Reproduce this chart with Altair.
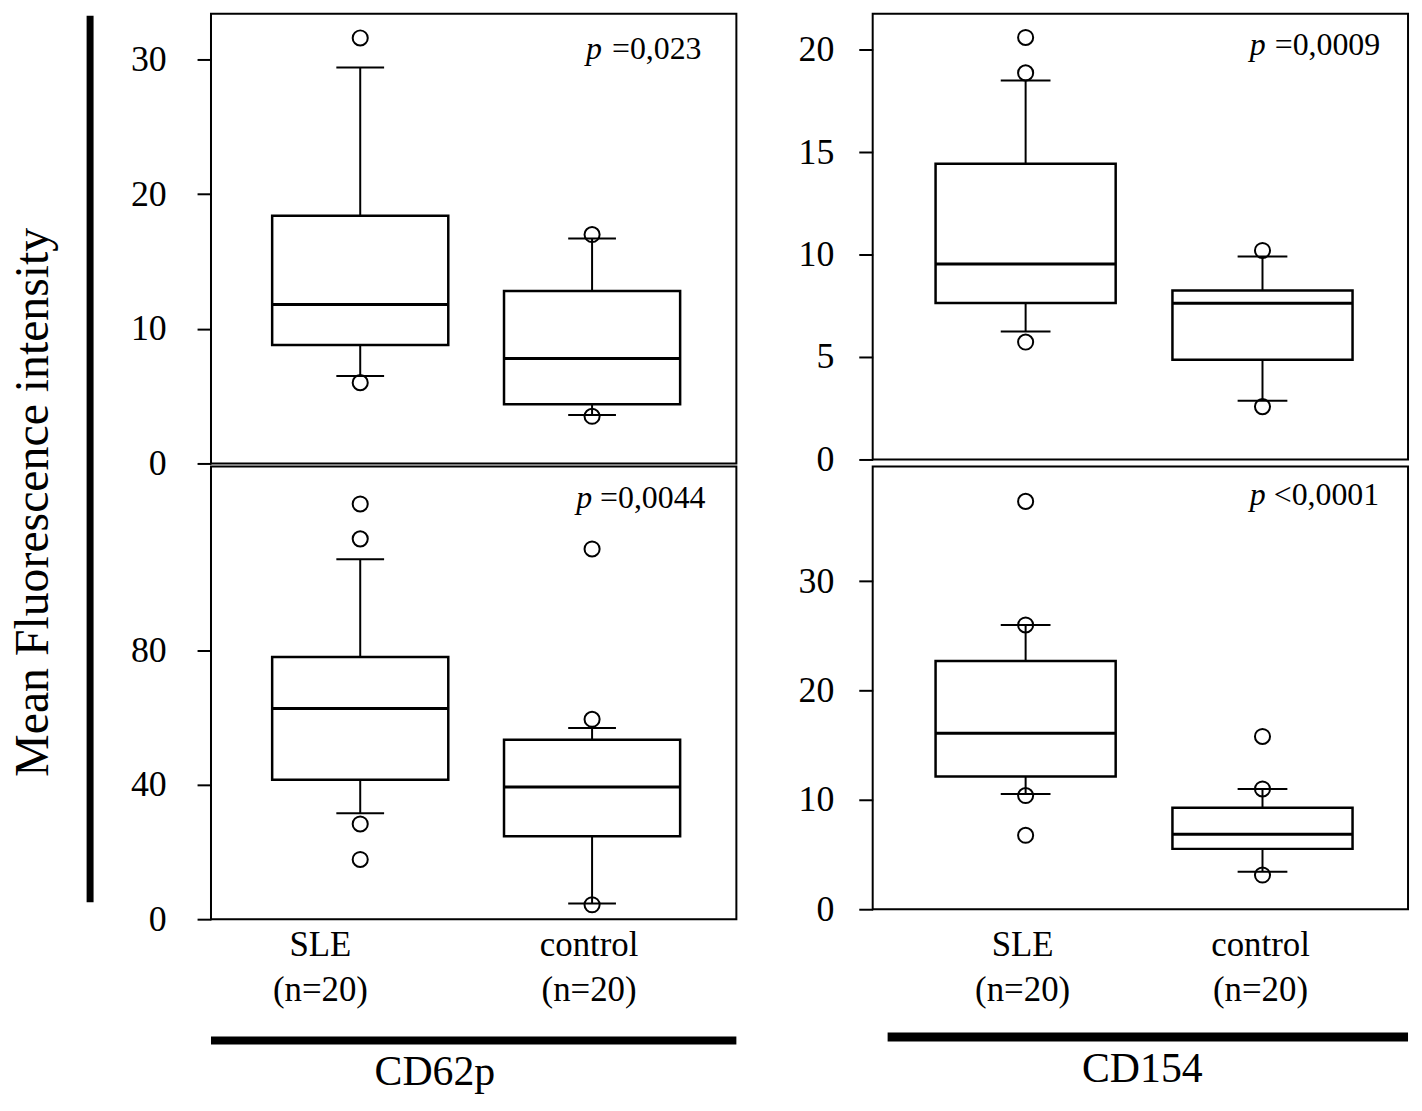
import altair as alt
import pandas as pd

FONT = "Liberation Serif"

groups = ["SLE", "control"]
n_label = "(n=20)"
y_title = "Mean Fluorescence intensity"
marker_names = ["CD62p", "CD154"]

# ---- CD62p, upper panel
cd62p_top_lo = [6.5, 3.6]
cd62p_top_q1 = [8.8, 4.4]
cd62p_top_med = [11.8, 7.8]
cd62p_top_q3 = [18.4, 12.8]
cd62p_top_hi = [29.4, 16.7]
cd62p_top_out_g = ["SLE", "SLE", "control", "control"]
cd62p_top_out_v = [31.6, 6.0, 17.0, 3.5]
cd62p_top_ticks = [0, 10, 20, 30]
cd62p_top_p = "=0,023"

# ---- CD62p, lower panel
cd62p_bot_lo = [31.6, 4.7]
cd62p_bot_q1 = [41.6, 24.7]
cd62p_bot_med = [62.8, 39.4]
cd62p_bot_q3 = [78.2, 53.5]
cd62p_bot_hi = [107.3, 57.0]
cd62p_bot_out_g = ["SLE", "SLE", "SLE", "SLE", "control", "control", "control"]
cd62p_bot_out_v = [123.8, 113.4, 28.4, 17.8, 110.4, 59.6, 4.3]
cd62p_bot_ticks = [0, 40, 80]
cd62p_bot_p = "=0,0044"

# ---- CD154, upper panel
cd154_top_lo = [6.25, 2.87]
cd154_top_q1 = [7.64, 4.87]
cd154_top_med = [9.54, 7.62]
cd154_top_q3 = [14.44, 8.25]
cd154_top_hi = [18.5, 9.91]
cd154_top_out_g = ["SLE", "SLE", "SLE", "control", "control"]
cd154_top_out_v = [20.6, 18.87, 5.73, 10.2, 2.58]
cd154_top_ticks = [0, 5, 10, 15, 20]
cd154_top_p = "=0,0009"

# ---- CD154, lower panel
cd154_bot_lo = [10.54, 3.42]
cd154_bot_q1 = [12.15, 5.52]
cd154_bot_med = [16.1, 6.85]
cd154_bot_q3 = [22.7, 9.28]
cd154_bot_hi = [26.0, 11.0]
cd154_bot_out_g = ["SLE", "SLE", "SLE", "SLE", "control", "control", "control"]
cd154_bot_out_v = [37.3, 26.0, 10.4, 6.76, 15.8, 11.0, 3.13]
cd154_bot_ticks = [0, 10, 20, 30]
cd154_bot_p = "<0,0001"

NOFRAME = alt.ViewBackground(stroke="transparent")


def panel(lo, q1, med, q3, hi, out_g, out_v, ticks, ptext,
          W, H, ymax, ylab_pad, pad_outer, band_align, box_w, cap_w,
          p_left, p_right, p_base, show_x=False, xlab_pad=9,
          sle_off=0, ctrl_off=0):
    stats = pd.DataFrame({"g": groups, "lo": lo, "q1": q1, "med": med,
                          "q3": q3, "hi": hi})
    outs = pd.DataFrame({"g": out_g, "v": out_v})
    xsc = alt.Scale(domain=groups, paddingOuter=pad_outer, paddingInner=0,
                    align=band_align)
    if show_x:
        expr = (f"datum.value === '{groups[0]}' ? ['{groups[0]}', '{n_label}'] : "
                f"['{groups[1]}', '{n_label}']")
        xax = alt.Axis(title=None, labelAngle=0, ticks=False, domain=False,
                       labelFont=FONT, labelFontSize=35, labelColor="black",
                       labelPadding=xlab_pad, labelLineHeight=45,
                       labelExpr=expr,
                       labelOffset={"condition": {"test": f"datum.value === '{groups[0]}'",
                                                  "value": sle_off},
                                    "value": ctrl_off})
    else:
        xax = None
    X = alt.X("g:N", scale=xsc, axis=xax, title=None)
    ysc = alt.Scale(domain=[0, ymax], nice=False)
    yax = alt.Axis(values=ticks, title=None, domain=False, grid=False,
                   tickSize=14, tickWidth=2, tickColor="black",
                   labelFont=FONT, labelFontSize=36, labelColor="black",
                   labelPadding=ylab_pad, labelOverlap=False)

    def Y(f):
        return alt.Y(f, scale=ysc, axis=yax, title=None)

    base = alt.Chart(stats)
    w_hi = base.mark_rule(strokeWidth=2, color="black").encode(x=X, y=Y("q3:Q"), y2="hi:Q")
    w_lo = base.mark_rule(strokeWidth=2, color="black").encode(x=X, y=Y("lo:Q"), y2="q1:Q")
    box = base.mark_bar(size=box_w, fill="white", stroke="black",
                        strokeWidth=2.5).encode(x=X, y=Y("q1:Q"), y2="q3:Q")
    mline = base.mark_tick(size=box_w, thickness=3, color="black", opacity=1).encode(x=X, y=Y("med:Q"))
    c_hi = base.mark_tick(size=cap_w, thickness=2, color="black", opacity=1).encode(x=X, y=Y("hi:Q"))
    c_lo = base.mark_tick(size=cap_w, thickness=2, color="black", opacity=1).encode(x=X, y=Y("lo:Q"))
    pts = alt.Chart(outs).mark_point(shape="circle", size=230, filled=False,
                                     stroke="black", strokeWidth=2,
                                     opacity=1).encode(x=X, y=Y("v:Q"))
    pdf = pd.DataFrame({"p": ["p"], "t": [ptext]})
    t_p = alt.Chart(pdf).mark_text(font=FONT, fontSize=32, fontStyle="italic",
                                   align="left", baseline="alphabetic",
                                   color="black").encode(
        x=alt.value(p_left), y=alt.value(p_base), text="p:N")
    t_v = alt.Chart(pdf).mark_text(font=FONT, fontSize=32, align="right",
                                   baseline="alphabetic", color="black").encode(
        x=alt.value(p_right), y=alt.value(p_base), text="t:N")
    return alt.layer(w_hi, w_lo, box, mline, c_hi, c_lo, pts, t_p, t_v).properties(
        width=W, height=H)


def underline(W, x0, x1, y, thick, label, lx, ly):
    df = pd.DataFrame({"t": [label]})
    r = alt.Chart(df).mark_rule(strokeWidth=thick, color="black").encode(
        x=alt.value(x0), x2=alt.value(x1), y=alt.value(y))
    t = alt.Chart(df).mark_text(font=FONT, fontSize=42, align="center",
                                baseline="alphabetic", color="black").encode(
        x=alt.value(lx), y=alt.value(ly), text="t:N")
    return alt.layer(r, t).properties(width=W, height=1, view=NOFRAME)


def blank(W, H):
    df = pd.DataFrame({"t": [""]})
    return alt.Chart(df).mark_rule(opacity=0).encode(
        x=alt.value(0), y=alt.value(0), y2=alt.value(1)).properties(
        width=W, height=H, view=NOFRAME)


LW = 528
RW = 538

tl = panel(cd62p_top_lo, cd62p_top_q1, cd62p_top_med, cd62p_top_q3, cd62p_top_hi,
           cd62p_top_out_g, cd62p_top_out_v, cd62p_top_ticks, cd62p_top_p,
           LW, 452, 33.4, 31, 0.133, 0.54, 177, 48, 377, 493, 46)
bl = panel(cd62p_bot_lo, cd62p_bot_q1, cd62p_bot_med, cd62p_bot_q3, cd62p_bot_hi,
           cd62p_bot_out_g, cd62p_bot_out_v, cd62p_bot_ticks, cd62p_bot_p,
           LW, 455, 135, 31, 0.133, 0.54, 177, 48, 367, 497, 42,
           show_x=True, xlab_pad=9, sle_off=-40, ctrl_off=-3)
tr = panel(cd154_top_lo, cd154_top_q1, cd154_top_med, cd154_top_q3, cd154_top_hi,
           cd154_top_out_g, cd154_top_out_v, cd154_top_ticks, cd154_top_p,
           RW, 448, 21.76, 25, 0.13, 0.56, 181, 50, 379, 510, 42)
br = panel(cd154_bot_lo, cd154_bot_q1, cd154_bot_med, cd154_bot_q3, cd154_bot_hi,
           cd154_bot_out_g, cd154_bot_out_v, cd154_bot_ticks, cd154_bot_p,
           RW, 445, 40.5, 25, 0.13, 0.56, 181, 50, 379, 509, 39,
           show_x=True, xlab_pad=19, sle_off=-3, ctrl_off=-2)

# Vertical bar with the shared y title
vdf = pd.DataFrame({"t": [y_title]})
vrule = alt.Chart(vdf).mark_rule(strokeWidth=7, color="black").encode(
    x=alt.value(28.5), y=alt.value(2), y2=alt.value(893))
vtext = alt.Chart(vdf).mark_text(font=FONT, fontSize=48, angle=270, align="center",
                                 baseline="alphabetic", color="black").encode(
    x=alt.value(-14), y=alt.value(491), text="t:N")
vbar = alt.layer(vrule, vtext).properties(width=13, height=452, view=NOFRAME)

ul_left = underline(LW, 0, LW, 119, 8, marker_names[0], 225, 164)
ul_right = underline(RW, 15, RW, 115.5, 9, marker_names[1], 271, 161)

chart = alt.concat(
    vbar, tl, tr,
    blank(13, 1), bl, br,
    blank(13, 1), ul_left, ul_right,
    columns=3, spacing={"row": 3, "column": 137}, bounds="flush",
).properties(
    padding={"left": 0, "top": 0, "right": 0, "bottom": 0},
    background="white",
).configure_view(stroke="black", strokeWidth=2)

chart.save("out.html", embed_options={"renderer": "svg", "actions": False})
